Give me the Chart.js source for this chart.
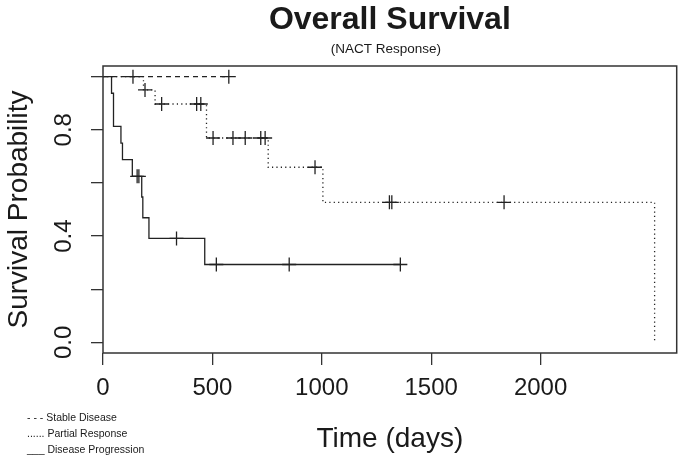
<!DOCTYPE html>
<html><head><meta charset="utf-8">
<script src="https://cdn.jsdelivr.net/npm/chart.js@4.4.1/dist/chart.umd.min.js"></script>
<style>html,body{margin:0;padding:0;background:#fff;}#wrap{width:685px;height:458px;}</style>
</head><body><div id="wrap"><canvas id="c" width="685" height="458"></canvas></div>
<script>
// ---- data ----
const titleText = "Overall Survival";
const subtitleText = "(NACT Response)";
const xTitle = "Time (days)";
const yTitle = "Survival Probability";
const xTickValues = [0, 500, 1000, 1500, 2000];
const xTickLabels = ["0", "500", "1000", "1500", "2000"];
const yTickValues = [0, 0.2, 0.4, 0.6, 0.8, 1.0];
const yTickLabels = {"0": "0.0", "0.4": "0.4", "0.8": "0.8"};
const legendLines = ["- - - Stable Disease", "...... Partial Response", "___ Disease Progression"];

// Stable Disease
const sdTimes = [0, 137, 575];
const sdSurv  = [1, 1, 1];
const sdCensorTimes = [137, 575];
const sdCensorSurv  = [1, 1];

// Partial Response
const prTimes = [0, 185, 192, 238, 268, 428, 447, 473, 503, 594, 650, 721, 741, 755, 969, 1005, 1309, 1320, 1833, 2521];
const prSurv  = [1, 0.95, 0.95, 0.897, 0.897, 0.897, 0.897, 0.769, 0.769, 0.769, 0.769, 0.769, 0.769, 0.659, 0.659, 0.527, 0.527, 0.527, 0.527, 0];
const prCensorTimes = [192, 268, 428, 447, 503, 594, 650, 721, 741, 969, 1309, 1320, 1833];
const prCensorSurv  = [0.95, 0.897, 0.897, 0.897, 0.769, 0.769, 0.769, 0.769, 0.769, 0.659, 0.527, 0.527, 0.527];

// Disease Progression
const dpTimes = [0, 39, 48, 82, 89, 134, 156, 164, 177, 182, 210, 336, 465, 518, 851, 1359];
const dpSurv  = [1, 0.9375, 0.8125, 0.75, 0.6875, 0.625, 0.625, 0.625, 0.547, 0.469, 0.391, 0.391, 0.293, 0.293, 0.293, 0.293];
const dpCensorTimes = [156, 164, 336, 518, 851, 1359];
const dpCensorSurv  = [0.625, 0.625, 0.391, 0.293, 0.293, 0.293];

// ---- chart ----
const FONT = "'Liberation Sans', Arial, Helvetica, sans-serif";
const INK = '#1a1a1a';
const LINE = '#222';
const pts = (xs, ys) => xs.map((x, i) => ({x: x, y: ys[i]}));

function curve(xs, ys, dash) {
  return {data: pts(xs, ys), showLine: true, stepped: 'before', borderColor: LINE, borderWidth: 1.3,
          borderDash: dash, pointRadius: 0, pointHoverRadius: 0, fill: false};
}
function censor(xs, ys) {
  return {data: pts(xs, ys), showLine: false, pointStyle: 'cross', pointRadius: 7, pointHoverRadius: 7,
          pointBorderWidth: 1.3, borderColor: LINE, backgroundColor: LINE, borderWidth: 1.3};
}

const textPlugin = {
  id: 'texts',
  afterDraw(chart) {
    const c = chart.ctx, a = chart.chartArea, ys = chart.scales.y;
    c.save();
    // box
    c.strokeStyle = '#333'; c.lineWidth = 1.5;
    c.strokeRect(a.left, a.top, a.right - a.left, a.bottom - a.top);
    const cx = (a.left + a.right) / 2, cy = (a.top + a.bottom) / 2;
    c.fillStyle = INK;
    c.textAlign = 'center'; c.textBaseline = 'alphabetic';
    c.font = "bold 32px " + FONT;
    c.fillText(titleText, cx, 29);
    c.font = "13.5px " + FONT;
    c.fillText(subtitleText, cx - 4, 53);
    c.font = "28px " + FONT;
    c.fillText(xTitle, cx, 447);
    // y title rotated
    c.save();
    c.translate(27, cy); c.rotate(-Math.PI / 2);
    c.fillText(yTitle, 0, 0);
    c.restore();
    // y tick labels rotated
    c.font = "24px " + FONT;
    yTickValues.forEach(v => {
      const lab = yTickLabels[String(v)];
      if (!lab) return;
      c.save();
      c.translate(71, ys.getPixelForValue(v)); c.rotate(-Math.PI / 2);
      c.fillText(lab, 0, 0);
      c.restore();
    });
    // legend text
    c.textAlign = 'left';
    c.font = "10.5px " + FONT;
    legendLines.forEach((t, i) => c.fillText(t, 27, 420.5 + i * 16.3));
    c.restore();
  }
};

new Chart(document.getElementById('c'), {
  type: 'scatter',
  data: {datasets: [
    curve(sdTimes, sdSurv, [5, 4]),
    curve(prTimes, prSurv, [1.2, 3.2]),
    curve(dpTimes, dpSurv, []),
    censor(sdCensorTimes, sdCensorSurv),
    censor(prCensorTimes, prCensorSurv),
    censor(dpCensorTimes, dpCensorSurv)
  ]},
  options: {
    responsive: false, animation: false, devicePixelRatio: 1,
    layout: {padding: {top: 66, right: 5, left: 0, bottom: 0}},
    plugins: {legend: {display: false}, tooltip: {enabled: false}, title: {display: false}},
    scales: {
      x: {
        type: 'linear', min: 0, max: 2622,
        afterBuildTicks: s => { s.ticks = xTickValues.map(v => ({value: v})); },
        afterFit: s => { s.height = 105; },
        ticks: {callback: (v) => { const i = xTickValues.indexOf(v); return i >= 0 ? xTickLabels[i] : ''; },
                font: {family: FONT, size: 24}, color: INK, padding: 9, maxRotation: 0, minRotation: 0, autoSkip: false},
        grid: {drawOnChartArea: false, drawTicks: true, tickLength: 12, color: '#333', tickColor: '#333', lineWidth: 1.3},
        border: {display: false}
      },
      y: {
        type: 'linear', min: -0.04, max: 1.04,
        afterBuildTicks: s => { s.ticks = yTickValues.map(v => ({value: v})); },
        afterFit: s => { s.width = 103; },
        ticks: {display: false},
        grid: {drawOnChartArea: false, drawTicks: true, tickLength: 12, color: '#333', tickColor: '#333', lineWidth: 1.3},
        border: {display: false}
      }
    }
  },
  plugins: [textPlugin]
});
</script></body></html>
